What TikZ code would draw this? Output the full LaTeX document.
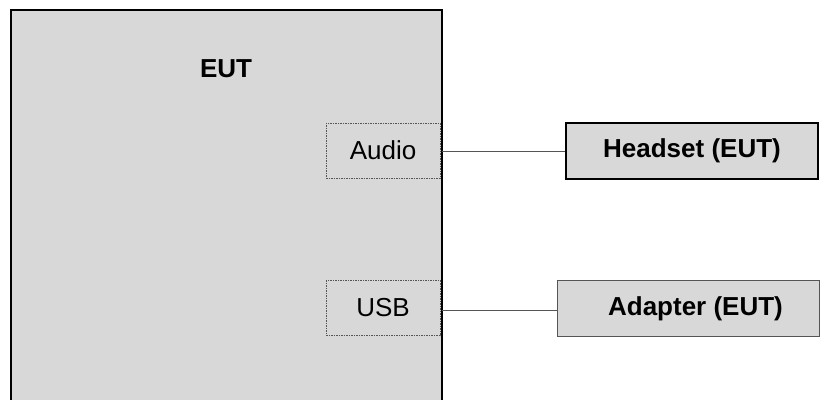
\documentclass[tikz,border=0pt]{standalone}
\usepackage{fontspec}
\setmainfont{Liberation Sans}
\definecolor{boxgray}{HTML}{D8D8D8}
\definecolor{linegray}{HTML}{555555}
\begin{document}
\begin{tikzpicture}[x=1pt,y=-1pt,
  port/.style={draw=linegray,dash pattern=on 1.5pt off 1pt,line width=0.8pt,fill=boxgray,
    minimum width=114pt,minimum height=55pt,inner sep=0pt,font=\fontsize{26}{30}\selectfont},
  devbox/.style={fill=boxgray,minimum height=56pt,inner sep=0pt,
    font=\bfseries\fontsize{26}{30}\selectfont},
  wire/.style={draw=linegray,line width=1pt}]
\useasboundingbox (0,0) rectangle (822,399);
% main EUT box (open at the bottom)
\fill[boxgray] (11,10) rectangle (441.5,405);
\draw[line width=2pt] (11,405) -- (11,10) -- (441.5,10) -- (441.5,405);
\node[font=\bfseries\fontsize{26}{30}\selectfont] (eut) at (226,69) {EUT};
% ports
\node[port,anchor=east] (audio) at (440.5,150.5) {Audio};
\node[port,anchor=east] (usb) at (440.5,308) {USB};
% devices
\node[devbox,draw=black,line width=1.5pt,minimum width=252pt] (headset) at (692,151) {Headset (EUT)};
\node[devbox,draw=linegray,line width=1pt,minimum width=262pt,anchor=west] (adapter) at (557,308.5) {\hspace*{14pt}Adapter (EUT)};
% connectors
\draw[wire] ([yshift=-1pt]audio.east) ++(1pt,0) coordinate (a1) -- (a1 -| headset.west);
\draw[wire] ([yshift=-2pt]usb.east) ++(1pt,0) coordinate (u1) -- (u1 -| adapter.west);
\end{tikzpicture}
\end{document}
